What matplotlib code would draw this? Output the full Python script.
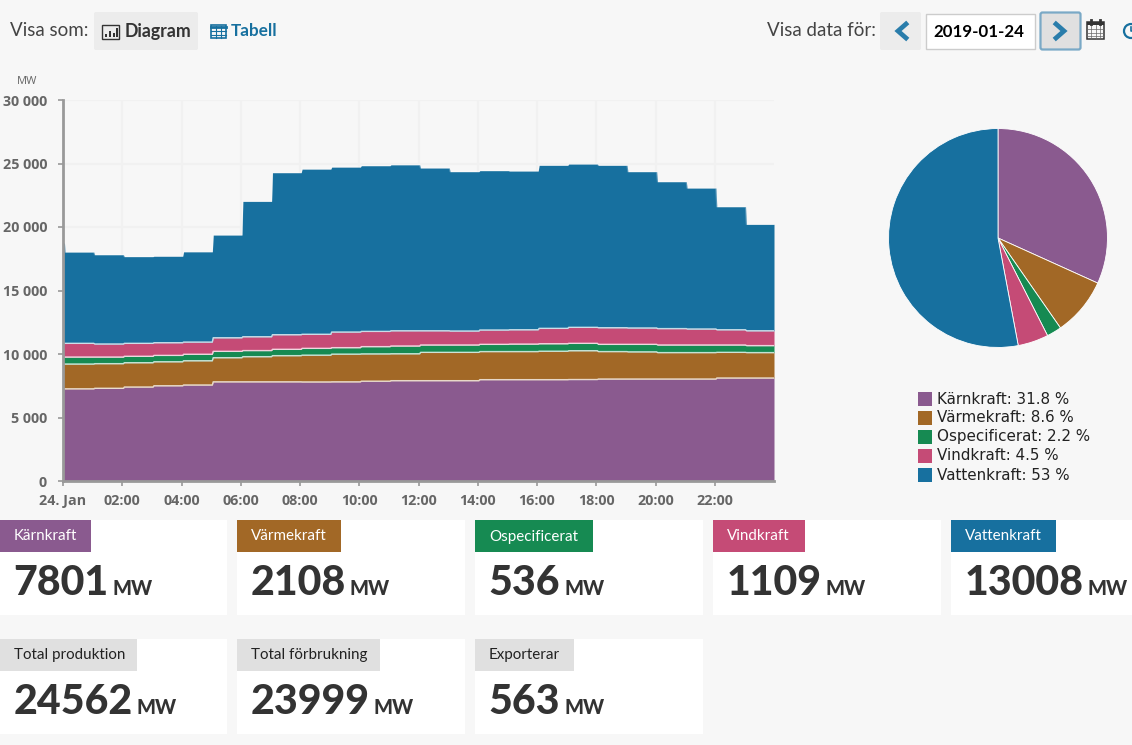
import numpy as np
import matplotlib

matplotlib.use("Agg")

import matplotlib.pyplot as plt  # noqa: E402
from matplotlib.patches import Rectangle, FancyBboxPatch, Circle  # noqa: E402

# -------------------------------
# Data (MW per hour)
# -------------------------------
HOURS = list(range(24))
karnkraft = [7260, 7300, 7400, 7500, 7560, 7810, 7810, 7810, 7801, 7810, 7860, 7900,
             7900, 7900, 7980, 7980, 7980, 7990, 8030, 8030, 8030, 8030, 8110, 8110]
varmekraft = [1950, 1940, 1915, 1890, 1910, 1900, 1980, 2060, 2108, 2180, 2150, 2120,
              2230, 2230, 2210, 2210, 2240, 2270, 2160, 2140, 2080, 2080, 2020, 2000]
ospecificerat = [550, 520, 505, 500, 510, 500, 480, 500, 536, 510, 570, 610,
                 580, 580, 570, 590, 590, 580, 570, 590, 600, 600, 580, 550]
vindkraft = [1080, 1030, 1020, 1000, 960, 1070, 1090, 1150, 1109, 1230, 1200, 1200,
             1120, 1100, 1130, 1130, 1210, 1260, 1310, 1290, 1290, 1260, 1200, 1170]
vattenkraft = [7190, 7030, 6830, 6810, 7110, 8090, 10660, 12760, 13008, 12990, 13050, 13070,
               12820, 12550, 12550, 12500, 12840, 12860, 12790, 12310, 11570, 11100, 9690, 8380]
VATTEN_FIRST = 7900  # short spike right at midnight

SOURCES = ["Kärnkraft", "Värmekraft", "Ospecificerat", "Vindkraft", "Vattenkraft"]
COLORS = ["#8a5a8f", "#a26826", "#168a52", "#c54b76", "#17709f"]
PIE_VALUES = [7801, 2108, 536, 1109, 13008]
PIE_LABELS = ["31.8 %", "8.6 %", "2.2 %", "4.5 %", "53 %"]

Y_TICKS = [0, 5000, 10000, 15000, 20000, 25000, 30000]
Y_LABELS = ["0", "5 000", "10 000", "15 000", "20 000", "25 000", "30 000"]
X_TICKS = list(range(0, 24, 2))
X_LABELS = ["24. Jan", "02:00", "04:00", "06:00", "08:00", "10:00", "12:00",
            "14:00", "16:00", "18:00", "20:00", "22:00"]

CARDS_TOP = ["7801", "2108", "536", "1109", "13008"]
CARDS_BOTTOM = [("Total produktion", "24562"), ("Total förbrukning", "23999"), ("Exporterar", "563")]

W, H = 1132, 745
BG = "#f7f7f7"
BLUE = "#17709f"
DARK = "#333333"
GREY_TXT = "#666666"
UI_FONT = "Lato"

fig = plt.figure(figsize=(W / 100, H / 100), dpi=100, facecolor=BG)


def px_axes(x0, y0, x1, y1, **kw):
    # axes placed by pixel box, y counted from the top of the image
    return fig.add_axes([x0 / W, 1 - y1 / H, (x1 - x0) / W, (y1 - y0) / H], **kw)


# overlay for all the page furniture, in image pixels
ui = px_axes(0, 0, W, H)
ui.set_xlim(0, W)
ui.set_ylim(H, 0)
ui.axis("off")
ui.set_zorder(0)

# ---- area chart ----
ax = px_axes(63, 100, 774, 481, facecolor="none")
ax.set_zorder(2)

hours = np.array(HOURS, dtype=float)
x = np.column_stack([hours + 0.07, hours + 1.04]).ravel()
x = np.concatenate([[0.0, 0.05], x])
x[-1] = 24.0

series = [karnkraft, varmekraft, ospecificerat, vindkraft, vattenkraft]
bottom = np.zeros_like(x)
for i, (vals, col) in enumerate(zip(series, COLORS)):
    y = np.repeat(np.array(vals, dtype=float), 2)
    first = VATTEN_FIRST if vals is vattenkraft else vals[0]
    y = np.concatenate([[first, first], y])
    top = bottom + y
    ax.fill_between(x, bottom, top, color=col, linewidth=0, zorder=3)
    ax.plot(x, top, color="white", lw=1.0, alpha=0.75 if i < 4 else 0.25, zorder=4)
    bottom = top

ax.set_xlim(0, 24)
ax.set_ylim(0, 30000)
ax.set_yticks(Y_TICKS, Y_LABELS)
ax.set_xticks(X_TICKS, X_LABELS)
ax.grid(True, color="#f1f1f1", lw=1.5, zorder=1)
ax.set_axisbelow(True)
for side in ["top", "right"]:
    ax.spines[side].set_visible(False)
for side in ["left", "bottom"]:
    ax.spines[side].set_color("#999999")
    ax.spines[side].set_linewidth(2)
    ax.spines[side].set_zorder(5)
ax.tick_params(axis="both", color="#999999", length=3.5, width=1.2, labelcolor=GREY_TXT)
for lab in ax.get_xticklabels() + ax.get_yticklabels():
    lab.set_fontfamily("Open Sans")
    lab.set_fontweight("bold")
    lab.set_fontsize(10.3)
ax.tick_params(axis="x", pad=6)
ax.tick_params(axis="y", pad=8)
ui.text(27, 81, "MW", ha="center", va="center", fontsize=8, color=GREY_TXT, family="Open Sans")

# ---- pie ----
pie_ax = px_axes(888, 128, 1108, 348)
pie_ax.pie(PIE_VALUES, colors=COLORS, startangle=90, counterclock=False, radius=1,
           wedgeprops={"edgecolor": "white", "linewidth": 0.6})
pie_ax.set_xlim(-1.005, 1.005)
pie_ax.set_ylim(-1.005, 1.005)

# ---- pie legend ----
for i, (name, pct, col) in enumerate(zip(SOURCES, PIE_LABELS, COLORS)):
    yc = 399 + i * 19
    ui.add_patch(Rectangle((918, yc - 7), 14, 14, color=col, lw=0))
    ui.text(937, yc, f"{name}: {pct}", ha="left", va="center", fontsize=10.9,
            color="#222222", family="DejaVu Sans")

# ---- header ----
ui.text(10, 30, "Visa som:", va="center", fontsize=13.5, color="#444444", family=UI_FONT)
ui.add_patch(FancyBboxPatch((94, 12), 104, 38, boxstyle="round,pad=0,rounding_size=2", fc="#ececec", lw=0))
ui.text(125, 31, "Diagram", va="center", fontsize=12.8, color=DARK, family=UI_FONT, weight="bold")
# bar chart icon
ui.add_patch(Rectangle((102, 25), 17, 14, fc="none", ec=DARK, lw=1))
for bx, bh in zip([105, 109, 112.5, 116], [3, 6, 4.5, 9]):
    ui.add_patch(Rectangle((bx, 37 - bh), 2, bh, fc=DARK, lw=0))
# table icon
ui.add_patch(Rectangle((210.5, 25), 15, 13, fc="none", ec=BLUE, lw=1.2))
ui.plot([210.5, 225.5], [27, 27], color=BLUE, lw=2)
for gy in [30.5, 34.5]:
    ui.plot([210.5, 225.5], [gy, gy], color=BLUE, lw=0.8)
for gx in [215.5, 220.5]:
    ui.plot([gx, gx], [26, 38], color=BLUE, lw=0.8)
ui.text(231, 31, "Tabell", va="center", fontsize=12.3, color=BLUE, family=UI_FONT, weight="bold")

ui.text(767, 30, "Visa data för:", va="center", fontsize=13.5, color="#444444", family=UI_FONT)
ui.add_patch(FancyBboxPatch((880, 12), 41, 38, boxstyle="round,pad=0,rounding_size=2", fc="#ececec", lw=0))
ui.add_patch(Rectangle((926, 13.5), 109, 35, fc="white", ec="#cccccc", lw=1))
ui.text(979, 32, "2019-01-24", ha="center", va="center", fontsize=12.2, color="black",
        family=UI_FONT, weight="bold")
ui.add_patch(FancyBboxPatch((1040.5, 12.5), 40, 37, boxstyle="round,pad=0,rounding_size=2",
                            fc="#e0e0e0", ec="#7aa9c6", lw=1.6))
ui.plot([906, 898, 906], [24, 31, 38], color="#2a7dab", lw=3.4, solid_joinstyle="miter")
ui.plot([1056, 1064, 1056], [24, 31, 38], color="#2a7dab", lw=3.4, solid_joinstyle="miter")
# calendar icon
ui.add_patch(Rectangle((1087, 22), 17, 17, fc="none", ec=DARK, lw=1.1))
ui.add_patch(Rectangle((1087, 22), 17, 3, fc=DARK, lw=0))
for gx in [1091, 1095.5, 1100]:
    ui.plot([gx, gx], [25, 39], color="#666666", lw=0.5)
for gy in [29, 32.5, 36]:
    ui.plot([1087, 1104], [gy, gy], color="#666666", lw=0.5)
for gx in [1091, 1100]:
    ui.plot([gx, gx], [19.5, 24], color=DARK, lw=2)
# clock icon, cut off by the page edge
ui.add_patch(Circle((1131, 31), 7, fc="none", ec=BLUE, lw=1.6))
ui.plot([1131, 1131, 1132], [27, 31, 31], color=BLUE, lw=1.2)


# ---- cards ----
def card(x0, x1, y0, label, label_w, value, label_col, label_txt):
    ui.add_patch(Rectangle((x0, y0), x1 - x0, 95, fc="white", lw=0))
    ui.add_patch(Rectangle((x0, y0), label_w, 32, fc=label_col, lw=0))
    ui.text(x0 + 14, y0 + 16.5, label, va="center", fontsize=10.9, color=label_txt, family=UI_FONT)
    t = ui.text(x0 + 13.5, y0 + 75, value, va="baseline", fontsize=29.6, color=DARK,
                family=UI_FONT, weight="black")
    end = t.get_window_extent(fig.canvas.get_renderer()).x1
    ui.text(end + 4, y0 + 75, "MW", va="baseline", fontsize=14.4, color=DARK,
            family=UI_FONT, weight="black")


CARD_X = [(0, 227), (237, 465), (475, 703), (713, 941), (951, 1132)]
TOP_LABEL_W = [91, 104, 118, 92, 105]
BOTTOM_LABEL_W = [137, 143, 99]
for (x0, x1), name, lw_, val, col in zip(CARD_X, SOURCES, TOP_LABEL_W, CARDS_TOP, COLORS):
    card(x0, x1, 520, name, lw_, val, col, "white")
for (x0, x1), (name, val), lw_ in zip(CARD_X, CARDS_BOTTOM, BOTTOM_LABEL_W):
    card(x0, x1, 639, name, lw_, val, "#e0e0e0", "#222222")

fig.savefig("out.png", dpi=100, facecolor=BG)
